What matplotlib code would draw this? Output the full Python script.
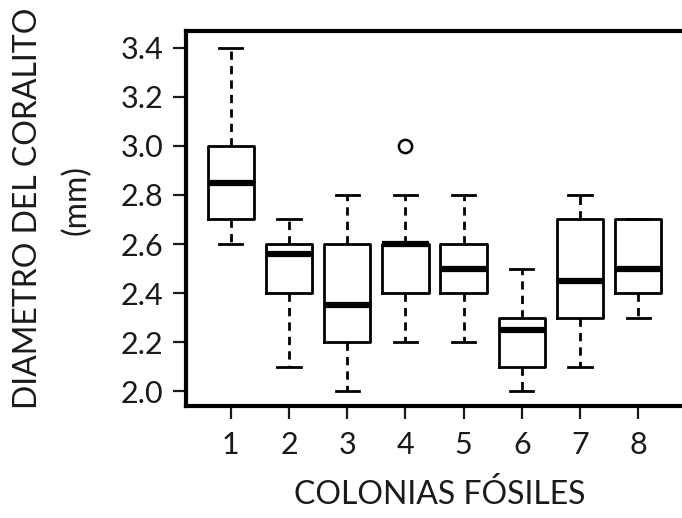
import matplotlib
matplotlib.use("Agg")
import matplotlib.pyplot as plt

plt.rcParams['font.family'] = ['Lato', 'DejaVu Sans']

# Five-number summaries per fossil colony
colonies = ["1", "2", "3", "4", "5", "6", "7", "8"]
whisker_low = [2.60, 2.10, 2.00, 2.20, 2.20, 2.00, 2.10, 2.30]
q1 = [2.70, 2.40, 2.20, 2.40, 2.40, 2.10, 2.30, 2.40]
median = [2.85, 2.56, 2.35, 2.60, 2.50, 2.25, 2.45, 2.50]
q3 = [3.00, 2.60, 2.60, 2.60, 2.60, 2.30, 2.70, 2.70]
whisker_high = [3.40, 2.70, 2.80, 2.80, 2.80, 2.50, 2.80, 2.70]
outliers = [[], [], [], [3.00], [], [], [], []]

y_ticks = [2.0, 2.2, 2.4, 2.6, 2.8, 3.0, 3.2, 3.4]

stats = []
for i, lab in enumerate(colonies):
    stats.append(dict(label=lab, whislo=whisker_low[i], q1=q1[i], med=median[i],
                      q3=q3[i], whishi=whisker_high[i], fliers=outliers[i]))

fig = plt.figure(figsize=(6.82, 5.18), dpi=100)
# axes box runs past the right edge of the canvas
ax = fig.add_axes([186 / 682, 1 - 406 / 518, 520 / 682, (406 - 31) / 518])

positions = list(range(1, len(colonies) + 1))
ax.bxp(stats, positions=positions, widths=0.8, patch_artist=False,
       boxprops=dict(color="black", linewidth=2.0),
       medianprops=dict(color="black", linewidth=4.5, solid_capstyle="butt"),
       whiskerprops=dict(color="black", linewidth=2.0, linestyle=(0, (3.0, 2.2))),
       capprops=dict(color="black", linewidth=2.0),
       capwidths=0.4,
       flierprops=dict(marker="o", markerfacecolor="none", markeredgecolor="black",
                       markersize=9.5, markeredgewidth=1.8))

ax.set_xlim(0.23, 0.23 + 520 / 58.2)
ax.set_ylim(1.94, 3.468)
ax.set_yticks(y_ticks)
ax.set_yticklabels([f"{v:.1f}" for v in y_ticks])
ax.set_xticks(positions)
ax.set_xticklabels(colonies)

for side in ("left", "bottom", "top", "right"):
    ax.spines[side].set_linewidth(3)
    ax.spines[side].set_color("black")

ax.tick_params(axis="y", length=9.5, width=1.6, pad=7, labelsize=22, colors="#1a1a1a")
ax.tick_params(axis="x", length=9, width=1.6, pad=9, labelsize=22, colors="#1a1a1a")
for t in ax.get_xticklines() + ax.get_yticklines():
    t.set_color("#333333")

label_kw = dict(fontsize=23, color="#1a1a1a")
fig.text(28 / 682, 1 - 208 / 518, "DIAMETRO DEL CORALITO", rotation=90,
         ha="center", va="center", **label_kw)
fig.text(76 / 682, 1 - 200 / 518, "(mm)", rotation=90,
         ha="center", va="center", **label_kw)
fig.text(440 / 682, 1 - 495 / 518, "COLONIAS FÓSILES",
         ha="center", va="center", **label_kw)

fig.savefig("out.png", dpi=100)
